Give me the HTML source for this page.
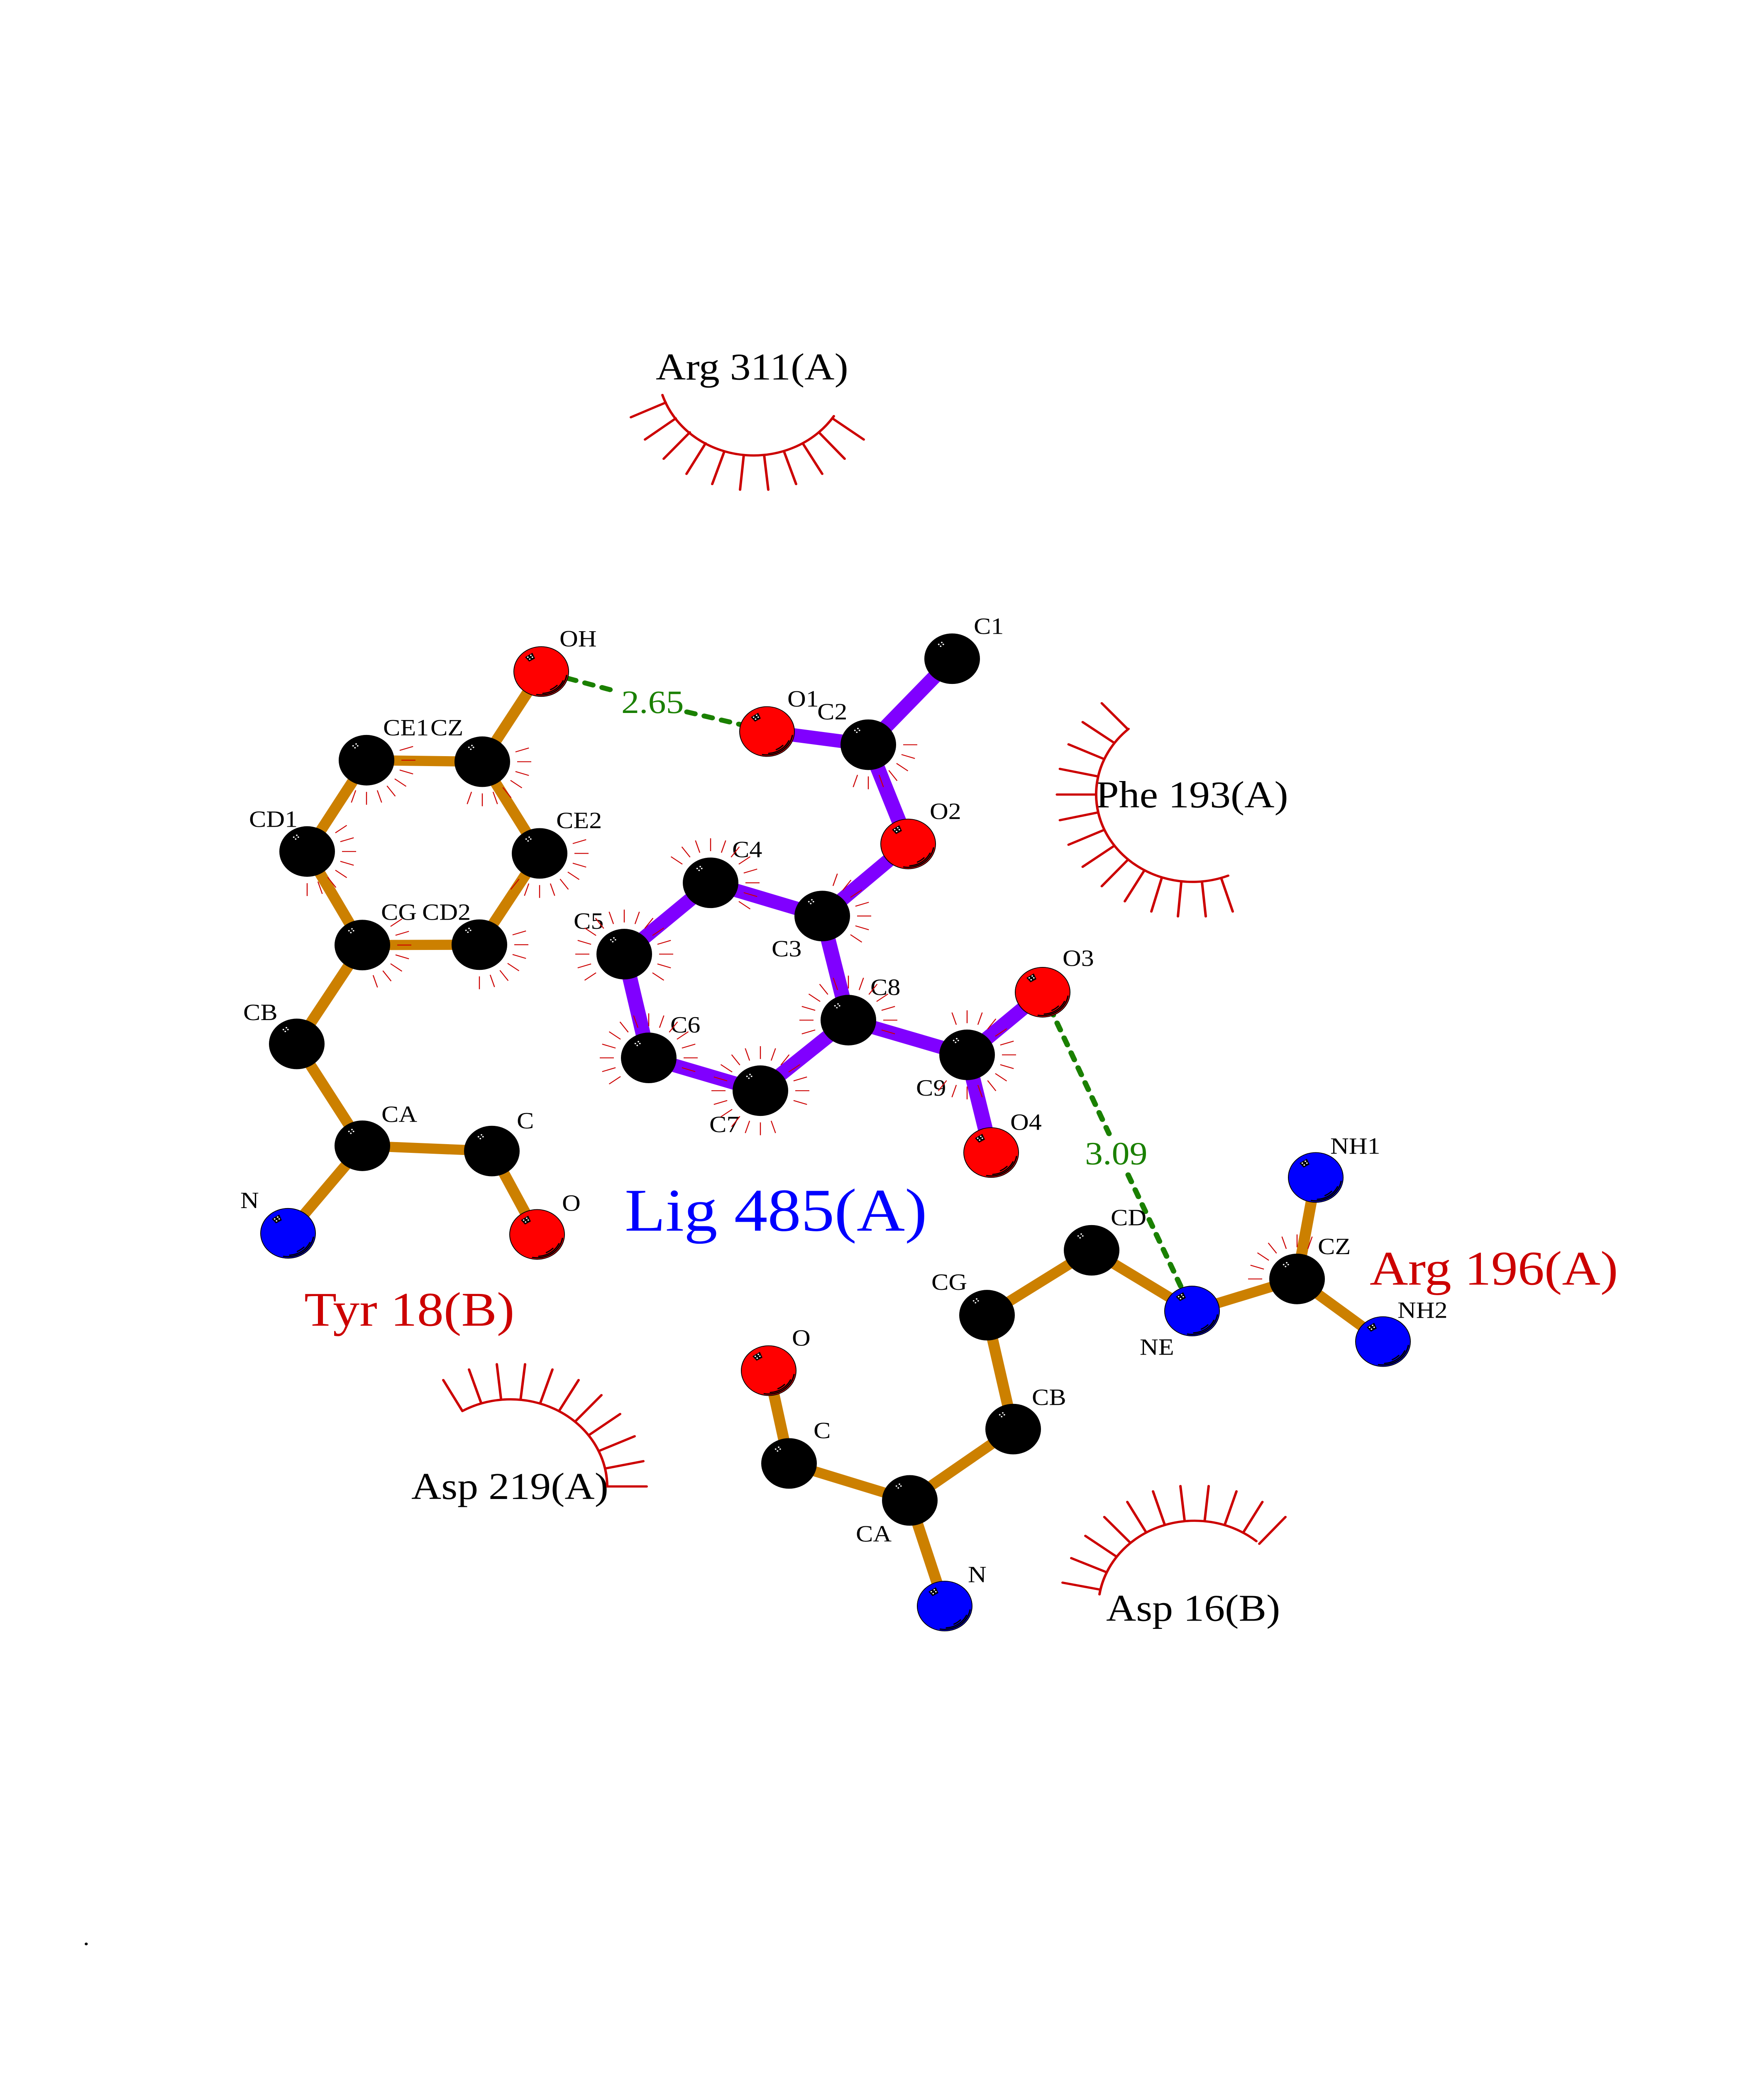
<!DOCTYPE html>
<html><head><meta charset="utf-8"><style>
html,body{margin:0;padding:0;background:#fff;width:100%;height:100%;overflow:hidden}
svg{display:block;position:fixed;left:0;top:0;width:100vw;height:100vh;overflow:hidden}
text{font-family:"Liberation Serif",serif}
.a{font-size:62px;fill:#000}
.r{font-size:100px;fill:#000}
.g{font-size:86px;fill:#1a8000}
.h{font-size:128px;fill:#cc0000}
.pb line{stroke:#8000ff;stroke-width:36}
.ob line{stroke:#cc8000;stroke-width:27}
.hb line{stroke:#1a8000;stroke-width:13;stroke-linecap:round;stroke-dasharray:20 23}
.lash{stroke:#cc0000;stroke-width:6;stroke-linecap:round;fill:none}
</style></head><body>
<svg xmlns="http://www.w3.org/2000/svg" viewBox="0 0 4250 5500" preserveAspectRatio="none">
<defs>
<line id="t" x1="0" y1="-84" x2="0" y2="-118" stroke="#cc0000" stroke-width="2.4"/>
<g id="d" fill="#fff"><circle cx="-32.3" cy="-38" r="1.9"/><circle cx="-25" cy="-43" r="1.9"/><circle cx="-21.3" cy="-38" r="1.9"/><circle cx="-27.7" cy="-33" r="1.9"/></g>
<g id="k"><circle r="67" fill="#000"/><use href="#d"/></g>
<g id="s"><polygon points="-39,-38 -21.3,-49.7 -15,-34.7 -29,-26.3" fill="#000"/><use href="#d"/>
<g fill="none" stroke="#000" stroke-width="3.2" stroke-linecap="round"><path d="M61.1 10.3A62 62 0 0 1-10.8 61.1"/><path d="M52.6 24.5A58 58 0 0 1 4 57.9"/><path d="M38.1 36.8A53 53 0 0 1 22.4 48"/></g></g>
<g id="O"><circle r="66" fill="#f00" stroke="#000" stroke-width="2"/><use href="#s"/></g>
<g id="N"><circle r="66" fill="#00f" stroke="#000" stroke-width="2"/><use href="#s"/></g>
</defs>

<!-- ligand bonds -->
<g class="pb">
<line x1="2294" y1="1746" x2="2092" y2="1974"/>
<line x1="2092" y1="1974" x2="1848" y2="1939"/>
<line x1="2092" y1="1974" x2="2188" y2="2237"/>
<line x1="2188" y1="2237" x2="1981" y2="2428"/>
<line x1="1981" y1="2428" x2="1712" y2="2340"/>
<line x1="1712" y1="2340" x2="1504" y2="2529"/>
<line x1="1504" y1="2529" x2="1563" y2="2804"/>
<line x1="1563" y1="2804" x2="1832" y2="2891"/>
<line x1="1832" y1="2891" x2="2044" y2="2704"/>
<line x1="2044" y1="2704" x2="1981" y2="2428"/>
<line x1="2044" y1="2704" x2="2330" y2="2796"/>
<line x1="2330" y1="2796" x2="2512" y2="2630"/>
<line x1="2330" y1="2796" x2="2388" y2="3055"/>
</g>
<!-- residue bonds -->
<g class="ob">
<line x1="1304" y1="1780" x2="1162" y2="2019"/>
<line x1="1162" y1="2019" x2="883" y2="2015"/>
<line x1="883" y1="2015" x2="740" y2="2257"/>
<line x1="740" y1="2257" x2="873" y2="2505"/>
<line x1="873" y1="2505" x2="1155" y2="2504"/>
<line x1="1155" y1="2504" x2="1300" y2="2262"/>
<line x1="1300" y1="2262" x2="1162" y2="2019"/>
<line x1="873" y1="2505" x2="715" y2="2767"/>
<line x1="715" y1="2767" x2="873" y2="3037"/>
<line x1="873" y1="3037" x2="694" y2="3269"/>
<line x1="873" y1="3037" x2="1185" y2="3051"/>
<line x1="1185" y1="3051" x2="1294" y2="3272"/>
<line x1="3170" y1="3121" x2="3125" y2="3390"/>
<line x1="3125" y1="3390" x2="3332" y2="3556"/>
<line x1="3125" y1="3390" x2="2872" y2="3475"/>
<line x1="2872" y1="3475" x2="2630" y2="3314"/>
<line x1="2630" y1="3314" x2="2378" y2="3486"/>
<line x1="2378" y1="3486" x2="2441" y2="3788"/>
<line x1="2441" y1="3788" x2="2192" y2="3977"/>
<line x1="2192" y1="3977" x2="2276" y2="4257"/>
<line x1="2192" y1="3977" x2="1901" y2="3879"/>
<line x1="1901" y1="3879" x2="1852" y2="3633"/>
</g>
<!-- hydrogen bonds -->
<g class="hb">
<line x1="1368" y1="1798" x2="1490" y2="1834"/>
<line x1="1655" y1="1887" x2="1790" y2="1922"/>
<line x1="2530" y1="2672" x2="2672" y2="3005"/>
<line x1="2718" y1="3114" x2="2860" y2="3445"/>
</g>
<!-- atoms -->
<use href="#O" x="1304" y="1780"/>
<use href="#O" x="1848" y="1939"/>
<use href="#k" x="2092" y="1974"/>
<use href="#k" x="2294" y="1746"/>
<use href="#O" x="2188" y="2237"/>
<use href="#k" x="1981" y="2428"/>
<use href="#k" x="1712" y="2340"/>
<use href="#k" x="1504" y="2529"/>
<use href="#k" x="1563" y="2804"/>
<use href="#k" x="1832" y="2891"/>
<use href="#k" x="2044" y="2704"/>
<use href="#k" x="2330" y="2796"/>
<use href="#O" x="2512" y="2630"/>
<use href="#O" x="2388" y="3055"/>
<use href="#k" x="883" y="2015"/>
<use href="#k" x="1162" y="2019"/>
<use href="#k" x="740" y="2257"/>
<use href="#k" x="1300" y="2262"/>
<use href="#k" x="873" y="2505"/>
<use href="#k" x="1155" y="2504"/>
<use href="#k" x="715" y="2767"/>
<use href="#k" x="873" y="3037"/>
<use href="#k" x="1185" y="3051"/>
<use href="#N" x="694" y="3269"/>
<use href="#O" x="1294" y="3272"/>
<use href="#k" x="2630" y="3314"/>
<use href="#N" x="2872" y="3475"/>
<use href="#k" x="3125" y="3390"/>
<use href="#N" x="3170" y="3121"/>
<use href="#N" x="3332" y="3556"/>
<use href="#k" x="2378" y="3486"/>
<use href="#k" x="2441" y="3788"/>
<use href="#k" x="2192" y="3977"/>
<use href="#N" x="2276" y="4257"/>
<use href="#k" x="1901" y="3879"/>
<use href="#O" x="1852" y="3633"/>

<!-- atom labels -->
<text class="a" x="1348" y="1713">OH</text>
<text class="a" x="923" y="1949">CE1</text>
<text class="a" x="1037" y="1949">CZ</text>
<text class="a" x="1340" y="2195">CE2</text>
<text class="a" x="600" y="2192">CD1</text>
<text class="a" x="918" y="2438">CG</text>
<text class="a" x="1017" y="2438">CD2</text>
<text class="a" x="586" y="2704">CB</text>
<text class="a" x="919" y="2974">CA</text>
<text class="a" x="1245" y="2991">C</text>
<text class="a" x="579" y="3202">N</text>
<text class="a" x="1354" y="3209">O</text>
<text class="a" x="2346" y="1680">C1</text>
<text class="a" x="1897" y="1873">O1</text>
<text class="a" x="1969" y="1907">C2</text>
<text class="a" x="2240" y="2171">O2</text>
<text class="a" x="1859" y="2535">C3</text>
<text class="a" x="1764" y="2272">C4</text>
<text class="a" x="1382" y="2462">C5</text>
<text class="a" x="1615" y="2737">C6</text>
<text class="a" x="1709" y="3001">C7</text>
<text class="a" x="2097" y="2637">C8</text>
<text class="a" x="2207" y="2904">C9</text>
<text class="a" x="2560" y="2560">O3</text>
<text class="a" x="2434" y="2995">O4</text>
<text class="a" x="2676" y="3248">CD</text>
<text class="a" x="2746" y="3591">NE</text>
<text class="a" x="3175" y="3324">CZ</text>
<text class="a" x="3205" y="3058">NH1</text>
<text class="a" x="3367" y="3493">NH2</text>
<text class="a" x="2244" y="3419">CG</text>
<text class="a" x="2486" y="3724">CB</text>
<text class="a" x="2062" y="4086">CA</text>
<text class="a" x="2332" y="4194">N</text>
<text class="a" x="1960" y="3812">C</text>
<text class="a" x="1908" y="3567">O</text>

<text class="g" x="1497" y="1890">2.65</text>
<text class="g" x="2614" y="3086">3.09</text>

<text class="r" x="1580" y="1006">Arg 311(A)</text>
<text class="r" x="2640" y="2140">Phe 193(A)</text>
<text class="r" x="991" y="3973">Asp 219(A)</text>
<text class="r" x="2665" y="4296">Asp 16(B)</text>
<text class="h" x="733" y="3514">Tyr 18(B)</text>
<text class="h" x="3300" y="3405">Arg 196(A)</text>
<text x="1505" y="3262" font-size="161" fill="#0000ff">Lig 485(A)</text>
<text x="200" y="5155" font-size="62" fill="#000">.</text>

<!-- atom contact ticks -->
<g transform="translate(1712 2340)"><use href="#t" transform="rotate(-54)"/><use href="#t" transform="rotate(-36)"/><use href="#t" transform="rotate(-18)"/><use href="#t"/><use href="#t" transform="rotate(18)"/><use href="#t" transform="rotate(36)"/><use href="#t" transform="rotate(54)"/><use href="#t" transform="rotate(72)"/><use href="#t" transform="rotate(90)"/><use href="#t" transform="rotate(108)"/><use href="#t" transform="rotate(126)"/></g>
<g transform="translate(1981 2428)"><use href="#t" transform="rotate(18)"/><use href="#t" transform="rotate(36)"/><use href="#t" transform="rotate(54)"/><use href="#t" transform="rotate(72)"/><use href="#t" transform="rotate(90)"/><use href="#t" transform="rotate(108)"/><use href="#t" transform="rotate(126)"/></g>
<g transform="translate(1504 2529)"><use href="#t" transform="rotate(-126)"/><use href="#t" transform="rotate(-108)"/><use href="#t" transform="rotate(-90)"/><use href="#t" transform="rotate(-72)"/><use href="#t" transform="rotate(-54)"/><use href="#t" transform="rotate(-36)"/><use href="#t" transform="rotate(-18)"/><use href="#t"/><use href="#t" transform="rotate(18)"/><use href="#t" transform="rotate(36)"/><use href="#t" transform="rotate(54)"/><use href="#t" transform="rotate(72)"/><use href="#t" transform="rotate(90)"/><use href="#t" transform="rotate(108)"/><use href="#t" transform="rotate(126)"/></g>
<g transform="translate(1563 2804)"><use href="#t" transform="rotate(-126)"/><use href="#t" transform="rotate(-108)"/><use href="#t" transform="rotate(-90)"/><use href="#t" transform="rotate(-72)"/><use href="#t" transform="rotate(-54)"/><use href="#t" transform="rotate(-36)"/><use href="#t" transform="rotate(-18)"/><use href="#t"/><use href="#t" transform="rotate(18)"/><use href="#t" transform="rotate(36)"/><use href="#t" transform="rotate(54)"/><use href="#t" transform="rotate(72)"/><use href="#t" transform="rotate(90)"/><use href="#t" transform="rotate(108)"/></g>
<g transform="translate(1832 2891)"><use href="#t" transform="rotate(162)"/><use href="#t" transform="rotate(180)"/><use href="#t" transform="rotate(198)"/><use href="#t" transform="rotate(216)"/><use href="#t" transform="rotate(234)"/><use href="#t" transform="rotate(252)"/><use href="#t" transform="rotate(270)"/><use href="#t" transform="rotate(288)"/><use href="#t" transform="rotate(306)"/><use href="#t" transform="rotate(324)"/><use href="#t" transform="rotate(342)"/><use href="#t"/><use href="#t" transform="rotate(18)"/><use href="#t" transform="rotate(36)"/><use href="#t" transform="rotate(54)"/><use href="#t" transform="rotate(72)"/><use href="#t" transform="rotate(90)"/><use href="#t" transform="rotate(108)"/></g>
<g transform="translate(2044 2704)"><use href="#t" transform="rotate(-108)"/><use href="#t" transform="rotate(-90)"/><use href="#t" transform="rotate(-72)"/><use href="#t" transform="rotate(-54)"/><use href="#t" transform="rotate(-36)"/><use href="#t" transform="rotate(-18)"/><use href="#t"/><use href="#t" transform="rotate(18)"/><use href="#t" transform="rotate(36)"/><use href="#t" transform="rotate(54)"/><use href="#t" transform="rotate(72)"/><use href="#t" transform="rotate(90)"/><use href="#t" transform="rotate(108)"/></g>
<g transform="translate(2330 2796)"><use href="#t" transform="rotate(-18)"/><use href="#t"/><use href="#t" transform="rotate(18)"/><use href="#t" transform="rotate(36)"/><use href="#t" transform="rotate(54)"/><use href="#t" transform="rotate(72)"/><use href="#t" transform="rotate(90)"/><use href="#t" transform="rotate(108)"/><use href="#t" transform="rotate(126)"/><use href="#t" transform="rotate(144)"/><use href="#t" transform="rotate(162)"/><use href="#t" transform="rotate(180)"/><use href="#t" transform="rotate(198)"/><use href="#t" transform="rotate(216)"/></g>
<g transform="translate(2092 1974)"><use href="#t" transform="rotate(90)"/><use href="#t" transform="rotate(108)"/><use href="#t" transform="rotate(126)"/><use href="#t" transform="rotate(144)"/><use href="#t" transform="rotate(162)"/><use href="#t" transform="rotate(180)"/><use href="#t" transform="rotate(198)"/></g>
<g transform="translate(3125 3390)"><use href="#t" transform="rotate(-90)"/><use href="#t" transform="rotate(-72)"/><use href="#t" transform="rotate(-54)"/><use href="#t" transform="rotate(-36)"/><use href="#t" transform="rotate(-18)"/><use href="#t"/><use href="#t" transform="rotate(18)"/></g>
<g transform="translate(883 2015)"><use href="#t" transform="rotate(72)"/><use href="#t" transform="rotate(90)"/><use href="#t" transform="rotate(108)"/><use href="#t" transform="rotate(126)"/><use href="#t" transform="rotate(144)"/><use href="#t" transform="rotate(162)"/><use href="#t" transform="rotate(180)"/><use href="#t" transform="rotate(198)"/></g>
<g transform="translate(1162 2019)"><use href="#t" transform="rotate(72)"/><use href="#t" transform="rotate(90)"/><use href="#t" transform="rotate(108)"/><use href="#t" transform="rotate(126)"/><use href="#t" transform="rotate(144)"/><use href="#t" transform="rotate(162)"/><use href="#t" transform="rotate(180)"/><use href="#t" transform="rotate(198)"/></g>
<g transform="translate(740 2257)"><use href="#t" transform="rotate(54)"/><use href="#t" transform="rotate(72)"/><use href="#t" transform="rotate(90)"/><use href="#t" transform="rotate(108)"/><use href="#t" transform="rotate(126)"/><use href="#t" transform="rotate(144)"/><use href="#t" transform="rotate(162)"/><use href="#t" transform="rotate(180)"/></g>
<g transform="translate(1300 2262)"><use href="#t" transform="rotate(72)"/><use href="#t" transform="rotate(90)"/><use href="#t" transform="rotate(108)"/><use href="#t" transform="rotate(126)"/><use href="#t" transform="rotate(144)"/><use href="#t" transform="rotate(162)"/><use href="#t" transform="rotate(180)"/><use href="#t" transform="rotate(198)"/><use href="#t" transform="rotate(216)"/></g>
<g transform="translate(873 2505)"><use href="#t" transform="rotate(54)"/><use href="#t" transform="rotate(72)"/><use href="#t" transform="rotate(90)"/><use href="#t" transform="rotate(108)"/><use href="#t" transform="rotate(126)"/><use href="#t" transform="rotate(144)"/><use href="#t" transform="rotate(162)"/></g>
<g transform="translate(1155 2504)"><use href="#t" transform="rotate(72)"/><use href="#t" transform="rotate(90)"/><use href="#t" transform="rotate(108)"/><use href="#t" transform="rotate(126)"/><use href="#t" transform="rotate(144)"/><use href="#t" transform="rotate(162)"/><use href="#t" transform="rotate(180)"/></g>

<!-- Arg 311 eyelash -->
<g class="lash">
<path d="M1596 1047A231 231 0 0 0 2009 1103"/>
<path d="M1604 1067L1520 1106M1628 1109L1554 1165M1662 1146L1599 1216M1700 1175L1654 1256M1745 1197L1716 1283M1792 1206L1783 1298M1841 1206L1851 1298M1889 1197L1918 1283M1934 1175L1981 1256M1973 1146L2035 1216M2007 1110L2081 1165"/>
</g>
<!-- Phe 193 eyelash -->
<g class="lash">
<path d="M2719 1932A232 232 0 0 0 2959 2321"/>
<path d="M2716.5 1932L2654.5 1864M2683 1968L2608.5 1914M2658 2011L2574.5 1973M2643 2057.5L2553.6 2038M2640 2106L2546.4 2106M2643 2154L2553.6 2174M2658 2200.7L2574.5 2239M2683 2243L2608.5 2297.5M2716.5 2280L2654.5 2349M2756 2309L2710 2389M2799 2327L2774 2416M2846 2338L2838 2429M2896 2338L2905 2429M2943 2330L2970 2416"/>
</g>
<!-- Asp 219 eyelash -->
<g class="lash">
<path d="M1114 3740A233 233 0 0 1 1463 3940"/>
<path d="M1114 3740L1068 3658M1159 3718L1130 3630M1207 3707L1197 3616M1254.5 3707L1265 3616M1302 3718L1331 3630M1348 3738L1394 3658M1386.5 3767L1449 3698M1420 3803L1494 3748M1445 3845L1529 3807M1460 3892L1550 3873M1463 3940L1558 3940"/>
</g>
<!-- Asp 16 eyelash -->
<g class="lash">
<path d="M2649 4226A232 232 0 0 1 3027 4085"/>
<path d="M2648.5 4213L2560 4195M2665 4167L2581 4130M2690 4126L2615 4071M2723 4089L2660.6 4021M2761 4061L2716 3981M2806 4041L2778 3953M2854 4030L2844 3939M2902.5 4030L2912 3939M2951 4041L2979 3953M2996 4061L3041.5 3981M3034 4092L3097 4021"/>
</g>
</svg>
</body></html>
